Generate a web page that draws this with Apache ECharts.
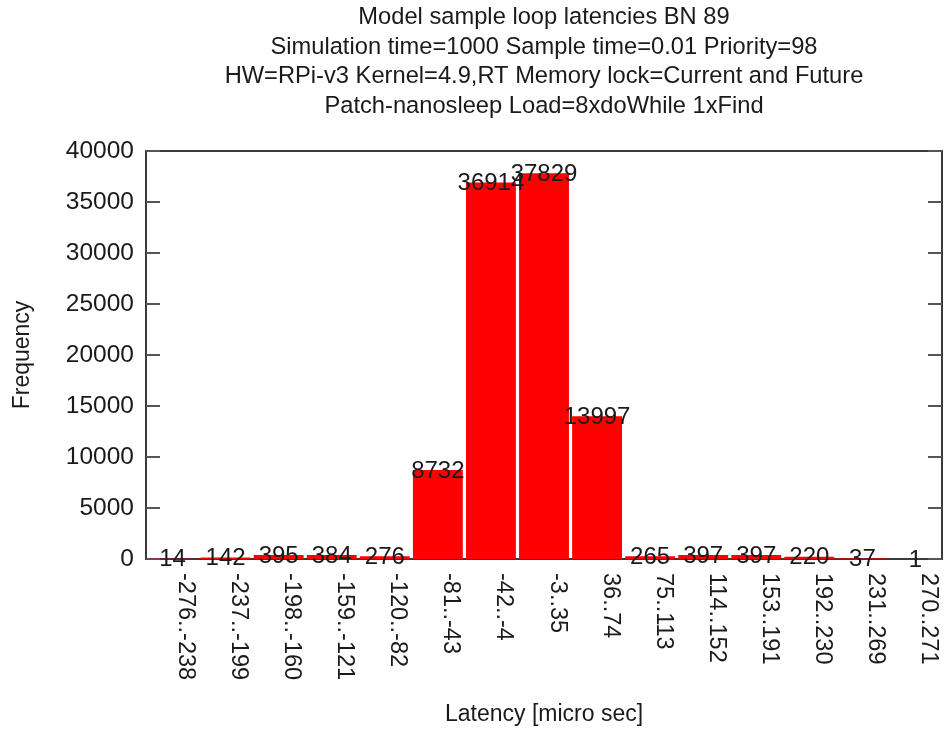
<!DOCTYPE html>
<html>
<head>
<meta charset="utf-8">
<script src="https://cdn.jsdelivr.net/npm/echarts@6/dist/echarts.min.js"></script>
<style>
  html, body { margin: 0; padding: 0; background: #fff; }
  #chart { width: 946px; height: 756px; }
</style>
</head>
<body>
<div id="chart"></div>
<script>
// Latency histogram bins (micro seconds) and their sample counts
const binLabels = [
  '-276..-238', '-237..-199', '-198..-160', '-159..-121', '-120..-82',
  '-81..-43', '-42..-4', '-3..35', '36..74', '75..113',
  '114..152', '153..191', '192..230', '231..269', '270..271'
];
const frequencies = [14, 142, 395, 384, 276, 8732, 36914, 37829, 13997, 265, 397, 397, 220, 37, 1];

const titleLines = [
  'Model sample loop latencies BN 89',
  'Simulation time=1000 Sample time=0.01 Priority=98',
  'HW=RPi-v3 Kernel=4.9,RT Memory lock=Current and Future',
  'Patch-nanosleep Load=8xdoWhile 1xFind'
];

const FONT = 'Liberation Sans, Arial, sans-serif';
const TXT = '#1a1a1a';
const TICK = { show: true, inside: true, length: 14, lineStyle: { color: '#555', width: 2 } };

const chart = echarts.init(document.getElementById('chart'), null, { renderer: 'canvas' });

chart.setOption({
  animation: false,
  backgroundColor: '#ffffff',
  textStyle: { fontFamily: FONT },
  graphic: [{
    type: 'text',
    x: 544,
    y: 3,
    style: {
      text: titleLines.join('\n'),
      textAlign: 'center',
      fontFamily: FONT,
      fontSize: 23.7,
      lineHeight: 29.5,
      fill: TXT
    }
  }],
  grid: {
    left: 146,
    right: 4,
    top: 151,
    bottom: 197,
    show: true,
    borderColor: '#3a3a3a',
    borderWidth: 2,
    backgroundColor: 'transparent'
  },
  xAxis: {
    type: 'category',
    data: binLabels,
    name: 'Latency [micro sec]',
    nameLocation: 'middle',
    nameGap: 144,
    nameTextStyle: { fontSize: 23, color: TXT, fontFamily: FONT },
    axisLine: { show: false },
    axisTick: { show: false },
    splitLine: { show: false },
    axisLabel: {
      rotate: -90,
      interval: 0,
      margin: 14,
      fontSize: 23.5,
      lineHeight: 26,
      verticalAlign: 'bottom',
      color: TXT,
      fontFamily: FONT
    }
  },
  yAxis: [{
    type: 'value',
    min: 0,
    max: 40000,
    interval: 5000,
    name: 'Frequency',
    nameLocation: 'middle',
    nameRotate: 90,
    nameGap: 112,
    nameTextStyle: { fontSize: 23, color: TXT, fontFamily: FONT },
    axisLine: { show: false },
    axisTick: TICK,
    splitLine: { show: false },
    axisLabel: {
      fontSize: 24.5,
      color: TXT,
      fontFamily: FONT,
      margin: 12,
      formatter: v => String(v)
    }
  }, {
    // mirrored tick marks on the right border
    type: 'value',
    position: 'right',
    min: 0,
    max: 40000,
    interval: 5000,
    axisLine: { show: false },
    axisTick: TICK,
    splitLine: { show: false },
    axisLabel: { show: false }
  }],
  series: [{
    type: 'bar',
    data: frequencies,
    yAxisIndex: 0,
    barCategoryGap: '6%',
    itemStyle: { color: '#ff0000' },
    label: {
      show: true,
      position: ['50%', 0],
      align: 'center',
      verticalAlign: 'middle',
      offset: [0, 1],
      fontSize: 24,
      color: TXT,
      fontFamily: FONT
    }
  }]
});
</script>
</body>
</html>
